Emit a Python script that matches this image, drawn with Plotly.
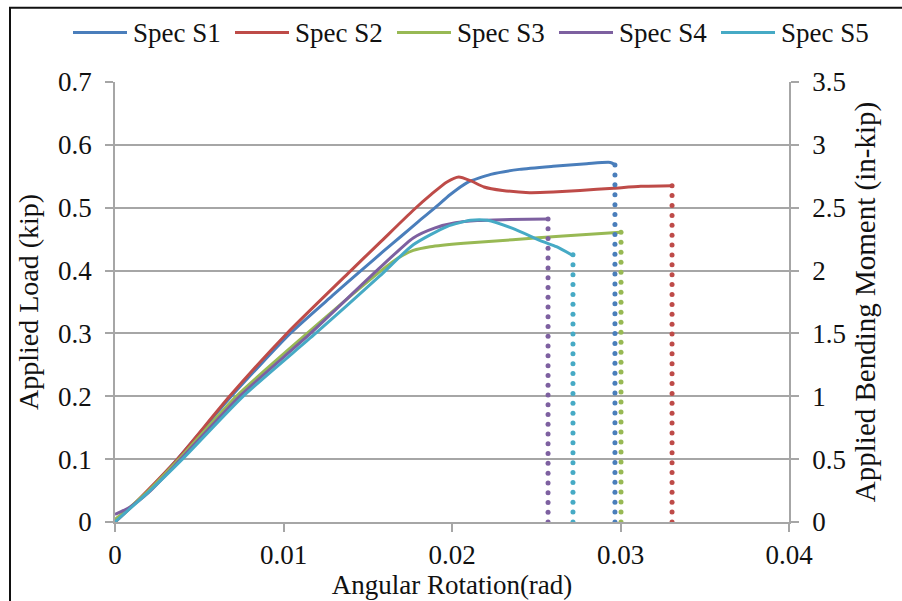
import numpy as np
import plotly.graph_objects as go

# Angular rotation (rad) and applied load (kip) for each specimen
names = ["Spec S1", "Spec S2", "Spec S3", "Spec S4", "Spec S5"]
colors = ["#4A7EBB", "#BE4B48", "#98B954", "#7D60A0", "#46AAC5"]

s1_rot = [0, 0.001, 0.002, 0.0037, 0.0069, 0.0104, 0.0129, 0.0146, 0.0159, 0.0170, 0.0180,
          0.0190, 0.0199, 0.0209, 0.0223, 0.0240, 0.0260, 0.0280, 0.0294, 0.0297]
s1_load = [0, 0.025, 0.051, 0.1, 0.2, 0.3, 0.36, 0.4, 0.43, 0.455, 0.478,
           0.500, 0.521, 0.540, 0.553, 0.561, 0.566, 0.570, 0.572, 0.568]

s2_rot = [0, 0.001, 0.002, 0.0037, 0.0068, 0.0102, 0.0140, 0.0157, 0.0177, 0.0188, 0.0197,
          0.0204, 0.0211, 0.0219, 0.0230, 0.0246, 0.0260, 0.0276, 0.0296, 0.0312, 0.0331]
s2_load = [0, 0.025, 0.052, 0.1, 0.2, 0.3, 0.4, 0.444, 0.496, 0.522, 0.541,
           0.549, 0.543, 0.533, 0.5275, 0.524, 0.525, 0.5275, 0.531, 0.534, 0.535]

s3_rot = [0, 0.001, 0.002, 0.0038, 0.0072, 0.0114, 0.0140, 0.0158, 0.0168, 0.0177, 0.0187,
          0.0207, 0.0236, 0.0266, 0.0300]
s3_load = [0.004, 0.026, 0.05, 0.1, 0.2, 0.3, 0.36, 0.40, 0.42, 0.432, 0.438,
           0.4436, 0.449, 0.455, 0.461]

s4_rot = [0, 0.0009, 0.002, 0.0039, 0.0074, 0.0116, 0.0155, 0.0177, 0.0190, 0.0202, 0.0215,
          0.0230, 0.0257]
s4_load = [0.012, 0.024, 0.047, 0.1, 0.2, 0.3, 0.399, 0.452, 0.468, 0.476, 0.4795,
           0.481, 0.482]

s5_rot = [0, 0.001, 0.002, 0.0040, 0.0076, 0.0119, 0.0157, 0.0177, 0.0197, 0.0211, 0.0221,
          0.0236, 0.0254, 0.0262, 0.0271]
s5_load = [0, 0.024, 0.048, 0.1, 0.2, 0.3, 0.391, 0.441, 0.470, 0.480, 0.480,
           0.467, 0.446, 0.438, 0.425]

# Rotation at which each specimen failed (load drops to zero)
fail_rot = [0.02967, 0.03306, 0.03003, 0.0257, 0.02718]

rotations = [s1_rot, s2_rot, s3_rot, s4_rot, s5_rot]
loads = [s1_load, s2_load, s3_load, s4_load, s5_load]

# Moment arm: 5 in (0.7 kip <-> 3.5 in-kip)
arm = 5.0

FONT = "Liberation Serif"
GRID = "#a6a6a6"
INK = "#111111"

fig = go.Figure()

for name, col, xr, yl in zip(names, colors, rotations, loads):
    fig.add_trace(go.Scatter(x=xr, y=yl, mode="lines", name=name,
                             line=dict(color=col, width=3, shape="spline", smoothing=0.6),
                             showlegend=False))

# Dotted drop from the last recorded load down to zero
for col, xf, yl in zip(colors, fail_rot, loads):
    top = yl[-1]
    n = int(round(top / 0.0157)) + 1
    ys = np.linspace(top, 0, n)
    fig.add_trace(go.Scatter(x=[xf] * n, y=ys, mode="markers",
                             marker=dict(color=col, size=5), showlegend=False,
                             hoverinfo="skip"))

# Bending moment axis (same data scaled by the moment arm)
fig.add_trace(go.Scatter(x=s1_rot, y=[v * arm for v in s1_load], yaxis="y2",
                         mode="lines", line=dict(width=0), opacity=0,
                         showlegend=False, hoverinfo="skip"))

L, R, T, B = 115, 113, 82, 74
W, H = 902, 601
pw, ph = W - L - R, H - T - B

def px_x(px):
    return (px - L) / pw

def px_y(py):
    return (H - B - py) / ph

shapes = []
annotations = []

# Legend drawn across the top
for i, (name, col) in enumerate(zip(names, colors)):
    x0 = 73 + 162 * i
    shapes.append(dict(type="line", xref="paper", yref="paper",
                       x0=px_x(x0), x1=px_x(x0 + 54), y0=px_y(32), y1=px_y(32),
                       line=dict(color=col, width=3)))
    annotations.append(dict(xref="paper", yref="paper", x=px_x(x0 + 58), y=px_y(32),
                            text=name, showarrow=False, xanchor="left", yanchor="middle",
                            font=dict(family=FONT, size=27, color=INK)))

# Outer frame
shapes.append(dict(type="rect", xref="paper", yref="paper",
                   x0=px_x(10), x1=px_x(910), y0=px_y(7), y1=px_y(610),
                   line=dict(color=INK, width=2), fillcolor="rgba(0,0,0,0)", layer="above"))

axis_common = dict(showline=True, linecolor=GRID, linewidth=1.5, ticks="outside",
                   tickcolor=GRID, ticklen=8, tickwidth=1.5,
                   tickfont=dict(family=FONT, size=27, color=INK),
                   zeroline=False)

fig.update_layout(
    width=W, height=H,
    margin=dict(l=L, r=R, t=T, b=B),
    paper_bgcolor="white", plot_bgcolor="white",
    showlegend=False,
    shapes=shapes, annotations=annotations,
    xaxis=dict(range=[0, 0.04], dtick=0.01, tick0=0, showgrid=False,
               title=dict(text="Angular Rotation(rad)", standoff=0,
                          font=dict(family=FONT, size=27, color=INK)),
               **axis_common),
    yaxis=dict(range=[0, 0.7], dtick=0.1, tick0=0, showgrid=True, gridcolor=GRID,
               gridwidth=1.5, ticklabelstandoff=8,
               title=dict(text="Applied Load (kip)", standoff=11,
                          font=dict(family=FONT, size=28, color=INK)),
               **axis_common),
    yaxis2=dict(range=[0, 3.5], dtick=0.5, tick0=0, overlaying="y", side="right",
                showgrid=False, ticklabelstandoff=8,
                title=dict(text="Applied Bending Moment (in-kip)", standoff=10,
                           font=dict(family=FONT, size=29, color=INK)),
                **axis_common),
)

fig.write_html("out.html")
